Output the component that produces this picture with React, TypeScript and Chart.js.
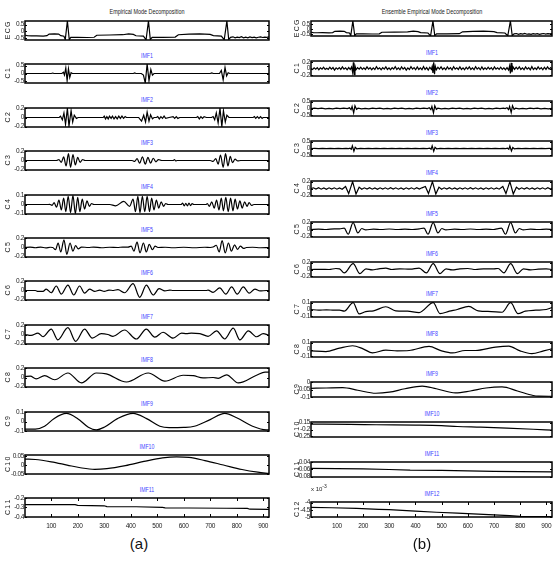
import React, { useEffect, useRef } from "react";
import { Chart, registerables } from "chart.js";

Chart.register(...registerables);

type Pt = [number, number];

// ---------------------------------------------------------------------------
// Signals (sample index, amplitude)
// ---------------------------------------------------------------------------

const ecgSignal: Pt[] = [
  [1, -0.3], [10, -0.33], [25, -0.35], [45, -0.34], [70, -0.36], [84, -0.33], [92, -0.21], [112, -0.19],
  [128, -0.21], [136, -0.33], [148, -0.37], [153, -0.62], [161, 0.78], [168, -0.62], [174, -0.46], [200, -0.45],
  [235, -0.47], [262, -0.45], [272, -0.3], [320, -0.28], [370, -0.26], [392, -0.2], [410, -0.24], [420, -0.34],
  [448, -0.37], [458, -0.64], [467, 0.78], [474, -0.62], [481, -0.46], [520, -0.46], [568, -0.44], [580, -0.26],
  [620, -0.22], [660, -0.2], [700, -0.24], [712, -0.33], [742, -0.37], [753, -0.64], [763, 0.78], [770, -0.62],
  [777, -0.46], [786, -0.42], [794, -0.5], [802, -0.44], [810, -0.48], [818, -0.41], [826, -0.49], [834, -0.45],
  [842, -0.5], [850, -0.43], [858, -0.48], [866, -0.44], [874, -0.5], [882, -0.45], [890, -0.42], [898, -0.47],
  [906, -0.44], [914, -0.46], [922, -0.42],
];

// EMD intrinsic mode functions
const emdImf1: Pt[] = [
  [1, 0], [100, 0], [106, 0.03], [110, 0], [140, 0], [146, 0.08], [150, -0.1], [155, 0.35], [160, -0.45],
  [165, 0.3], [170, -0.25], [175, 0.05], [180, 0], [410, 0], [415, 0.04], [420, 0], [440, 0], [448, -0.1],
  [455, -0.6], [462, 0.6], [469, -0.45], [476, 0.25], [482, -0.1], [488, 0], [700, 0], [706, 0.04], [712, 0],
  [735, 0], [742, 0.2], [749, -0.4], [756, 0.38], [762, -0.15], [768, 0.05], [774, 0], [922, 0],
];

const emdImf2: Pt[] = [
  [1, 0], [130, 0], [135, 0.03], [142, -0.05], [148, 0.1], [154, -0.15], [161, 0.2], [167, -0.19], [175, 0.15],
  [181, -0.1], [187, 0.05], [195, -0.02], [202, 0], [296, 0], [300, 0.03], [305, -0.03], [310, 0.02], [315, -0.03],
  [320, 0.03], [326, -0.02], [331, 0.03], [337, -0.03], [343, 0.02], [349, -0.03], [355, 0.03], [361, -0.02],
  [367, 0.03], [373, -0.02], [379, 0.02], [384, 0], [430, 0], [434, -0.03], [441, -0.08], [449, 0.05], [456, -0.1],
  [462, 0.12], [469, -0.08], [475, 0.06], [482, -0.03], [488, 0], [497, 0], [502, 0.02], [508, -0.03], [514, 0.02],
  [520, -0.02], [526, 0.03], [532, -0.02], [545, 0], [560, 0.02], [566, -0.02], [572, 0.02], [578, -0.02], [585, 0],
  [648, 0], [653, 0.02], [659, -0.03], [665, 0.02], [671, -0.02], [677, 0.02], [686, 0], [705, 0], [711, 0.02],
  [717, -0.05], [723, 0.1], [730, -0.12], [737, 0.2], [744, -0.2], [750, 0.15], [757, -0.1], [763, 0.05], [771, 0],
  [862, 0], [867, 0.02], [872, -0.02], [878, 0.02], [884, -0.02], [890, 0.02], [896, -0.02], [900, 0], [922, 0],
];

const emdImf3: Pt[] = [
  [1, 0], [120, 0], [129, 0.02], [138, -0.04], [147, 0.08], [156, -0.12], [165, 0.15], [173, -0.15], [182, 0.13],
  [191, -0.1], [200, 0.07], [209, -0.04], [218, 0.02], [228, 0], [405, 0], [415, -0.02], [424, 0.04], [434, -0.06],
  [444, 0.08], [455, -0.08], [465, 0.07], [475, -0.06], [485, 0.05], [495, -0.03], [505, 0.02], [517, 0], [560, 0],
  [565, 0.02], [570, -0.01], [575, 0], [700, 0], [711, -0.02], [721, 0.04], [730, -0.08], [739, 0.12], [749, -0.15],
  [758, 0.15], [767, -0.12], [776, 0.09], [784, -0.05], [794, 0.03], [804, -0.01], [815, 0], [922, 0],
];

const emdImf4: Pt[] = [
  [1, 0], [90, 0], [94, 0.002], [103, -0.01], [111, 0.02], [120, -0.03], [129, 0.05], [138, -0.06], [147, 0.07],
  [155, -0.08], [164, 0.09], [173, -0.09], [182, 0.1], [191, -0.1], [200, 0.08], [208, -0.08], [217, 0.06],
  [226, -0.05], [235, 0.04], [244, -0.02], [252, 0.01], [261, 0], [321, 0], [343, -0.015], [374, 0.035],
  [396, -0.02], [409, 0.06], [418, -0.08], [427, 0.09], [435, -0.09], [444, 0.09], [453, -0.08], [462, 0.09],
  [471, -0.08], [479, 0.07], [488, -0.06], [497, 0.05], [506, -0.04], [515, 0.03], [524, -0.02], [532, 0.01],
  [541, 0], [590, 0], [596, 0.015], [602, -0.015], [608, 0.012], [614, -0.015], [620, 0.015], [626, -0.012],
  [632, 0.01], [638, 0], [684, 0], [689, 0.01], [697, -0.02], [706, 0.03], [715, -0.04], [724, 0.05], [733, -0.06],
  [742, 0.07], [750, -0.07], [759, 0.08], [768, -0.08], [777, 0.07], [786, -0.07], [794, 0.06], [803, -0.05],
  [812, 0.04], [821, -0.04], [830, 0.03], [839, -0.02], [847, 0.02], [856, -0.01], [865, 0], [922, 0],
];

const emdImf5: Pt[] = [
  [1, 0], [20, 0.01], [40, -0.005], [60, 0.01], [80, -0.01], [96, 0.005], [106, 0], [116, -0.05], [126, 0.1],
  [136, -0.1], [148, 0.17], [159, -0.15], [171, 0.1], [182, -0.08], [192, 0.04], [202, -0.03], [214, 0.01],
  [240, 0], [260, 0.01], [290, -0.005], [320, 0.005], [350, 0], [370, 0.01], [390, 0.01], [402, 0.03], [412, -0.08],
  [424, 0.12], [435, -0.12], [448, 0.1], [459, -0.1], [470, 0.07], [482, -0.05], [492, 0.03], [503, 0], [530, 0.005],
  [560, -0.005], [600, 0.005], [640, -0.005], [680, 0.005], [700, 0], [711, 0.01], [723, 0.05], [734, -0.1],
  [745, 0.15], [757, -0.12], [769, 0.1], [780, -0.08], [792, 0.06], [803, -0.04], [814, 0.03], [826, -0.02],
  [837, 0], [860, 0.005], [890, -0.005], [922, 0],
];

const emdImf6: Pt[] = [
  [1, 0], [40, 0], [50, -0.02], [69, -0.02], [81, 0.03], [100, -0.05], [119, 0.1], [138, -0.08], [163, 0.12],
  [185, -0.1], [207, 0.1], [226, -0.06], [245, 0.03], [264, -0.02], [283, 0.01], [300, -0.02], [318, 0.01],
  [335, 0], [352, 0.02], [377, -0.05], [409, 0.15], [434, -0.15], [459, 0.12], [485, -0.1], [507, 0.04],
  [529, -0.01], [548, 0.01], [560, 0], [686, 0], [692, 0.01], [711, -0.04], [736, 0.06], [759, -0.08], [781, 0.08],
  [802, -0.08], [825, 0.08], [847, -0.06], [869, 0.03], [888, -0.01], [913, 0], [922, 0],
];

const emdImf7: Pt[] = [
  [1, 0], [24, -0.02], [50, 0.03], [69, -0.05], [100, 0.12], [125, -0.12], [163, 0.15], [192, -0.15], [226, 0.12],
  [255, -0.08], [289, 0.02], [314, 0], [333, -0.04], [377, 0.1], [421, -0.1], [459, 0.12], [491, -0.06], [522, 0.05],
  [560, -0.08], [592, 0.03], [610, 0.02], [629, 0.03], [661, 0.02], [692, -0.04], [724, 0.08], [755, -0.1],
  [787, 0.14], [812, -0.12], [844, 0.08], [875, -0.05], [900, 0.02], [922, -0.02],
];

const emdImf8: Pt[] = [
  [1, 0.02], [21, 0.03], [43, -0.03], [75, 0.04], [113, -0.05], [163, 0.1], [214, -0.12], [270, 0.1], [308, 0.08],
  [384, -0.1], [466, 0.1], [529, -0.08], [598, 0.05], [636, 0.04], [673, -0.01], [711, 0], [730, -0.02], [762, 0.06],
  [806, -0.12], [875, 0.05], [907, 0.12], [922, 0.12],
];

const emdImf9: Pt[] = [
  [1, -0.08], [40, -0.08], [75, -0.05], [110, 0.03], [157, 0.085], [200, 0.03], [240, -0.06], [270, -0.088],
  [300, -0.06], [350, 0.03], [409, 0.085], [460, 0.03], [510, -0.05], [545, -0.065], [600, -0.062], [640, -0.05],
  [700, 0.02], [755, 0.085], [800, 0.04], [860, -0.05], [912, -0.088], [922, -0.088],
];

const emdImf10: Pt[] = [
  [1, 0.033], [40, 0.031], [100, 0.018], [160, 0], [210, -0.015], [264, -0.024], [310, -0.02], [380, -0.003],
  [450, 0.02], [520, 0.04], [573, 0.046], [620, 0.043], [680, 0.025], [750, 0], [820, -0.025], [880, -0.04],
  [922, -0.047],
];

const emdImf11: Pt[] = [
  [1, -0.27], [190, -0.27], [200, -0.277], [300, -0.282], [310, -0.29], [420, -0.292], [520, -0.298],
  [530, -0.303], [620, -0.305], [760, -0.308], [840, -0.31], [850, -0.318], [922, -0.32],
];

// EEMD intrinsic mode functions
const eemdImf1: Pt[] = [
  [1, 0], [7, -0.03], [13, 0.02], [19, -0.02], [25, 0.03], [31, -0.04], [37, 0.02], [43, -0.02], [49, 0.04],
  [55, -0.03], [61, 0.01], [67, -0.03], [73, 0.04], [79, -0.02], [85, 0.03], [91, -0.05], [97, 0.02], [103, -0.02],
  [109, 0.03], [115, -0.03], [121, 0.05], [127, -0.02], [133, 0.02], [139, -0.04], [145, 0.03], [151, -0.03],
  [156, 0.05], [160, -0.12], [163, 0.2], [166, -0.2], [169, 0.08], [173, -0.04], [179, 0.03], [185, -0.02],
  [191, 0.04], [197, -0.03], [203, 0.02], [209, -0.03], [215, 0.05], [221, -0.02], [227, 0.03], [233, -0.04],
  [239, 0.02], [245, -0.03], [251, 0.06], [257, -0.02], [263, 0.02], [269, -0.04], [275, 0.03], [281, -0.02],
  [287, 0.05], [293, -0.03], [299, 0.02], [305, -0.04], [311, 0.03], [317, -0.02], [323, 0.06], [329, -0.03],
  [335, 0.02], [341, -0.04], [347, 0.05], [353, -0.02], [359, 0.03], [365, -0.05], [371, 0.02], [377, -0.03],
  [383, 0.06], [389, -0.02], [395, 0.03], [401, -0.04], [407, 0.05], [413, -0.03], [419, 0.02], [425, -0.04],
  [431, 0.06], [437, -0.03], [443, 0.03], [449, -0.05], [455, 0.04], [461, -0.03], [464, 0.06], [467, -0.14],
  [470, 0.2], [473, -0.18], [476, 0.07], [480, -0.04], [486, 0.04], [492, -0.02], [498, 0.05], [504, -0.03],
  [510, 0.02], [516, -0.04], [522, 0.05], [528, -0.02], [534, 0.03], [540, -0.04], [546, 0.06], [552, -0.02],
  [558, 0.02], [564, -0.03], [570, 0.05], [576, -0.03], [582, 0.02], [588, -0.04], [594, 0.04], [600, -0.02],
  [606, 0.05], [612, -0.03], [618, 0.02], [624, -0.04], [630, 0.06], [636, -0.02], [642, 0.03], [648, -0.04],
  [654, 0.05], [660, -0.03], [666, 0.02], [672, -0.03], [678, 0.04], [684, -0.02], [690, 0.03], [696, -0.04],
  [702, 0.05], [708, -0.02], [714, 0.02], [720, -0.03], [726, 0.04], [732, -0.03], [738, 0.02], [744, -0.04],
  [750, 0.03], [756, -0.05], [760, 0.08], [763, -0.16], [766, 0.18], [769, -0.12], [773, 0.05], [779, -0.03],
  [785, 0.04], [791, -0.02], [797, 0.05], [803, -0.03], [809, 0.02], [815, -0.04], [821, 0.05], [827, -0.02],
  [833, 0.03], [839, -0.04], [845, 0.06], [851, -0.03], [857, 0.02], [863, -0.03], [869, 0.05], [875, -0.02],
  [881, 0.03], [887, -0.04], [893, 0.04], [899, -0.03], [905, 0.05], [911, -0.02], [917, 0.03], [922, -0.02],
];

const eemdImf2: Pt[] = [
  [1, 0], [14, 0.02], [28, -0.015], [42, 0.02], [56, -0.02], [70, 0.015], [84, -0.02], [98, 0.02], [112, -0.015],
  [126, 0.02], [140, -0.01], [148, 0.05], [154, -0.08], [158, 0.15], [164, -0.32], [169, 0.2], [175, -0.06],
  [181, 0.02], [194, -0.02], [208, 0.015], [222, -0.02], [236, 0.02], [250, -0.015], [264, 0.02], [278, -0.02],
  [292, 0.015], [306, -0.02], [320, 0.02], [334, -0.015], [348, 0.02], [362, -0.02], [376, 0.015], [390, -0.02],
  [404, 0.02], [418, -0.015], [432, 0.02], [446, -0.01], [453, 0.05], [459, -0.08], [463, 0.15], [469, -0.32],
  [474, 0.2], [480, -0.06], [486, 0.02], [499, -0.02], [513, 0.015], [527, -0.02], [541, 0.02], [555, -0.015],
  [569, 0.02], [583, -0.02], [597, 0.015], [611, -0.02], [625, 0.02], [639, -0.015], [653, 0.02], [667, -0.02],
  [681, 0.015], [695, -0.02], [709, 0.02], [723, -0.015], [737, 0.02], [743, -0.01], [750, 0.05], [756, -0.08],
  [760, 0.15], [766, -0.3], [771, 0.2], [777, -0.06], [783, 0.02], [796, -0.02], [810, 0.015], [824, -0.02],
  [838, 0.02], [852, -0.015], [866, 0.02], [880, -0.02], [894, 0.015], [908, -0.02], [922, 0.01],
];

const eemdImf3: Pt[] = [
  [1, 0], [15, 0.015], [30, -0.01], [45, 0.015], [60, -0.015], [75, 0.01], [90, -0.015], [105, 0.015],
  [120, -0.01], [135, 0.015], [145, -0.01], [150, 0.02], [155, -0.06], [159, 0.2], [165, -0.2], [170, 0.08],
  [176, -0.02], [190, 0.015], [205, -0.015], [220, 0.01], [235, -0.015], [250, 0.015], [265, -0.01], [280, 0.015],
  [295, -0.015], [310, 0.01], [325, -0.015], [340, 0.015], [355, -0.01], [370, 0.015], [385, -0.015], [400, 0.01],
  [415, -0.015], [430, 0.015], [445, -0.01], [455, 0.02], [460, -0.06], [464, 0.2], [470, -0.2], [475, 0.08],
  [481, -0.02], [495, 0.015], [510, -0.015], [525, 0.01], [540, -0.015], [555, 0.015], [570, -0.01], [585, 0.015],
  [600, -0.015], [615, 0.01], [630, -0.015], [645, 0.015], [660, -0.01], [675, 0.015], [690, -0.015], [705, 0.01],
  [720, -0.015], [735, 0.015], [745, -0.01], [752, 0.02], [757, -0.06], [761, 0.18], [767, -0.18], [772, 0.07],
  [778, -0.02], [792, 0.015], [807, -0.015], [822, 0.01], [837, -0.015], [852, 0.015], [867, -0.01],
  [882, 0.015], [897, -0.015], [912, 0.01], [922, 0],
];

const eemdImf4: Pt[] = [
  [1, 0], [10, 0.02], [20, -0.015], [30, 0.025], [40, -0.02], [50, 0.015], [60, -0.025], [70, 0.02], [80, -0.015],
  [90, 0.02], [100, -0.02], [110, 0.015], [120, -0.02], [133, 0.06], [145, -0.15], [160, 0.2], [173, -0.16],
  [185, 0.04], [195, -0.02], [205, 0.02], [215, -0.015], [225, 0.025], [235, -0.02], [245, 0.015], [255, -0.025],
  [265, 0.02], [275, -0.015], [285, 0.02], [295, -0.02], [305, 0.025], [315, -0.015], [325, 0.02], [335, -0.02],
  [345, 0.015], [355, -0.025], [365, 0.02], [375, -0.015], [385, 0.02], [395, -0.02], [405, 0.025], [415, -0.015],
  [425, 0.02], [438, 0.06], [450, -0.15], [465, 0.2], [478, -0.16], [490, 0.04], [500, -0.02], [510, 0.02],
  [520, -0.015], [530, 0.025], [540, -0.02], [550, 0.015], [560, -0.025], [570, 0.02], [580, -0.015], [590, 0.02],
  [600, -0.02], [610, 0.025], [620, -0.015], [630, 0.02], [640, -0.02], [650, 0.015], [660, -0.025], [670, 0.02],
  [680, -0.015], [690, 0.02], [700, -0.02], [710, 0.015], [720, -0.02], [734, 0.06], [746, -0.15], [761, 0.2],
  [774, -0.16], [786, 0.04], [796, -0.02], [806, 0.02], [816, -0.015], [826, 0.025], [836, -0.02], [846, 0.015],
  [856, -0.025], [866, 0.02], [876, -0.015], [886, 0.02], [896, -0.02], [906, 0.025], [916, -0.015], [922, 0.01],
];

const eemdImf5: Pt[] = [
  [1, 0], [30, 0.01], [60, 0], [90, 0.02], [110, 0.02], [128, 0.04], [143, -0.14], [162, 0.2], [180, -0.1],
  [195, 0.03], [210, -0.01], [240, 0.01], [270, 0], [300, 0.015], [330, 0], [360, 0.01], [390, 0], [415, 0.02],
  [433, 0.04], [448, -0.14], [468, 0.2], [486, -0.1], [501, 0.03], [516, -0.01], [550, 0.01], [580, 0],
  [610, 0.015], [640, 0], [670, 0.01], [700, 0], [712, 0.02], [729, 0.04], [744, -0.14], [764, 0.2], [782, -0.1],
  [797, 0.03], [812, -0.01], [840, 0.01], [870, 0], [900, 0.01], [922, 0],
];

const eemdImf6: Pt[] = [
  [1, 0], [40, 0.005], [70, 0], [96, 0.03], [110, 0.02], [128, -0.1], [162, 0.17], [188, -0.12], [211, 0.02],
  [235, -0.01], [260, 0.02], [287, 0.04], [310, 0], [340, 0.02], [380, 0.01], [414, 0.04], [442, -0.1],
  [468, 0.17], [494, -0.12], [517, 0.02], [540, -0.01], [570, 0.02], [600, 0.03], [630, 0], [660, 0.02],
  [700, 0.02], [716, 0.03], [738, -0.1], [764, 0.17], [790, -0.12], [813, 0.02], [840, -0.01], [870, 0.01],
  [900, 0.02], [922, 0],
];

const eemdImf7: Pt[] = [
  [1, 0], [30, -0.01], [60, -0.005], [90, -0.01], [110, -0.01], [128, -0.025], [162, 0.1], [185, -0.065],
  [210, -0.03], [240, -0.02], [287, 0.04], [325, -0.02], [370, -0.025], [414, -0.045], [468, 0.1], [494, -0.06],
  [530, -0.025], [560, 0], [604, 0.045], [640, -0.02], [690, -0.03], [731, -0.04], [764, 0.1], [792, -0.06],
  [820, -0.025], [860, -0.01], [900, 0], [922, 0.03],
];

const eemdImf8: Pt[] = [
  [1, -0.02], [58, -0.03], [110, 0.02], [160, 0.055], [200, 0.01], [236, -0.05], [287, -0.01], [330, -0.02],
  [376, -0.015], [452, 0.045], [500, -0.02], [541, -0.05], [590, -0.015], [630, -0.015], [706, 0.035],
  [757, 0.05], [800, -0.02], [845, -0.06], [890, -0.02], [922, 0.01],
];

const eemdImf9: Pt[] = [
  [1, -0.042], [60, -0.04], [122, -0.038], [180, -0.055], [249, -0.075], [300, -0.068], [360, -0.045],
  [426, -0.027], [480, -0.045], [553, -0.073], [610, -0.06], [670, -0.04], [731, -0.033], [790, -0.06],
  [850, -0.09], [871, -0.094], [922, -0.095],
];

const eemdImf10: Pt[] = [
  [1, -0.16], [150, -0.162], [250, -0.165], [400, -0.168], [500, -0.172], [560, -0.178], [650, -0.183],
  [750, -0.19], [850, -0.198], [922, -0.205],
];

const eemdImf11: Pt[] = [
  [1, -0.057], [200, -0.058], [300, -0.06], [380, -0.062], [500, -0.0625], [600, -0.064], [700, -0.065],
  [800, -0.066], [922, -0.0665],
];

// residual, in units of 1e-3
const eemdImf12: Pt[] = [
  [1, -4.33], [80, -4.36], [175, -4.4], [260, -4.47], [300, -4.5], [400, -4.6], [480, -4.68], [560, -4.75],
  [640, -4.82], [700, -4.87], [760, -4.92], [800, -4.97], [880, -4.99], [922, -5],
];

// ---------------------------------------------------------------------------
// Axis labels, limits and ticks
// ---------------------------------------------------------------------------

const xTickValues = [100, 200, 300, 400, 500, 600, 700, 800, 900];

const emdLabels = ["E C G", "C 1", "C 2", "C 3", "C 4", "C 5", "C 6", "C 7", "C 8", "C 9", "C 1 0", "C 1 1"];
const emdTitles = ["", "IMF1", "IMF2", "IMF3", "IMF4", "IMF5", "IMF6", "IMF7", "IMF8", "IMF9", "IMF10", "IMF11"];
const emdRanges: [number, number][] = [
  [-0.66, 0.78], [-0.6, 0.6], [-0.21, 0.21], [-0.21, 0.21], [-0.105, 0.105], [-0.21, 0.21],
  [-0.21, 0.21], [-0.21, 0.21], [-0.21, 0.21], [-0.1, 0.1], [-0.05, 0.056], [-0.4, -0.2],
];
const emdTicks: number[][] = [
  [-0.5, 0, 0.5], [-0.5, 0, 0.5], [-0.2, 0, 0.2], [-0.2, 0, 0.2], [-0.1, 0, 0.1], [-0.2, 0, 0.2],
  [-0.2, 0, 0.2], [-0.2, 0, 0.2], [-0.2, 0, 0.2], [-0.1, 0, 0.1], [-0.05, 0, 0.05], [-0.4, -0.3, -0.2],
];
const emdSeries: Pt[][] = [
  ecgSignal, emdImf1, emdImf2, emdImf3, emdImf4, emdImf5, emdImf6, emdImf7, emdImf8, emdImf9, emdImf10, emdImf11,
];
const emdSmooth = [false, false, false, true, true, true, true, true, true, true, true, false];

const eemdLabels = ["E C G", "C 1", "C 2", "C 3", "C 4", "C 5", "C 6", "C 7", "C 8", "C 9", "C 1 0", "C 1 1", "C 1 2"];
const eemdTitles = ["", "IMF1", "IMF2", "IMF3", "IMF4", "IMF5", "IMF6", "IMF7", "IMF8", "IMF9", "IMF10", "IMF11", "IMF12"];
const eemdRanges: [number, number][] = [
  [-0.66, 0.78], [-0.24, 0.24], [-0.55, 0.55], [-0.55, 0.55], [-0.22, 0.22], [-0.22, 0.22], [-0.22, 0.22],
  [-0.11, 0.11], [-0.11, 0.11], [-0.1, 0], [-0.255, -0.145], [-0.081, -0.039], [-5.02, -3.95],
];
const eemdTicks: number[][] = [
  [-0.5, 0, 0.5], [-0.2, 0, 0.2], [-0.5, 0, 0.5], [-0.5, 0, 0.5], [-0.2, 0, 0.2], [-0.2, 0, 0.2], [-0.2, 0, 0.2],
  [-0.1, 0, 0.1], [-0.1, 0, 0.1], [-0.1, -0.05, 0], [-0.25, -0.2, -0.15], [-0.08, -0.06, -0.04], [-5, -4.5, -4],
];
const eemdSeries: Pt[][] = [
  ecgSignal, eemdImf1, eemdImf2, eemdImf3, eemdImf4, eemdImf5, eemdImf6, eemdImf7, eemdImf8, eemdImf9,
  eemdImf10, eemdImf11, eemdImf12,
];
const eemdSmooth = [false, false, false, false, false, true, true, true, true, true, true, false, false];

// ---------------------------------------------------------------------------
// Drawing
// ---------------------------------------------------------------------------

const NARROW = '"Liberation Sans Narrow", "Arial Narrow", "Liberation Sans", Arial, sans-serif';
const PAD_T = 5;
const PAD_B = 5;
const X_AXIS_H = 14;

// Tight, condensed lettering for the axis text.
const condensePlugin = {
  id: "condense",
  beforeDraw(chart: any) {
    (chart.ctx as any).letterSpacing = "-0.35px";
  },
  afterDraw(chart: any) {
    (chart.ctx as any).letterSpacing = "0px";
  },
};

// Axes frame plus inward MATLAB-style tick marks.
const framePlugin = {
  id: "frame",
  afterDatasetsDraw(chart: any, _args: any, opts: any) {
    const { ctx, chartArea, scales } = chart;
    const { left, top, right, bottom } = chartArea;
    ctx.save();
    ctx.strokeStyle = "#000";
    ctx.lineWidth = 1;
    const ys = scales.y;
    for (const t of ys.ticks) {
      const py = Math.round(ys.getPixelForValue(t.value)) + 0.5;
      ctx.beginPath();
      ctx.moveTo(left, py);
      ctx.lineTo(left + 2, py);
      ctx.moveTo(right - 2, py);
      ctx.lineTo(right, py);
      ctx.stroke();
    }
    if (opts && opts.xTicks) {
      const xs = scales.x;
      for (const t of xs.ticks) {
        const px = Math.round(xs.getPixelForValue(t.value)) + 0.5;
        ctx.beginPath();
        ctx.moveTo(px, top);
        ctx.lineTo(px, top + 3);
        ctx.moveTo(px, bottom);
        ctx.lineTo(px, bottom - 3);
        ctx.stroke();
      }
    }
    ctx.lineWidth = 1.5;
    ctx.strokeRect(left, top, right - left, bottom - top);
    ctx.restore();
  },
};

type PanelProps = {
  label: string;
  data: Pt[];
  range: [number, number];
  ticks: number[];
  smooth: boolean;
  left: number;
  top: number;
  width: number;
  boxH: number;
  axisW: number;
  titlePad: number;
  showX: boolean;
};

function Panel(p: PanelProps) {
  const ref = useRef<HTMLCanvasElement>(null);
  const height = PAD_T + p.boxH + (p.showX ? X_AXIS_H : PAD_B);

  useEffect(() => {
    if (!ref.current) return;
    const tickFont = { family: NARROW, size: 6.5 };
    const chart = new Chart(ref.current, {
      type: "line",
      data: {
        datasets: [
          {
            data: p.data.map(([x, y]) => ({ x, y })),
            borderColor: "#000",
            borderWidth: 1.2,
            pointRadius: 0,
            fill: false,
            tension: p.smooth ? 0.4 : 0,
            cubicInterpolationMode: p.smooth ? "monotone" : "default",
          },
        ],
      },
      options: {
        animation: false,
        responsive: false,
        maintainAspectRatio: false,
        events: [],
        layout: { padding: { top: PAD_T, bottom: p.showX ? 0 : PAD_B, left: 0, right: 1 } },
        plugins: {
          legend: { display: false },
          tooltip: { enabled: false },
          frame: { xTicks: p.showX },
        } as any,
        scales: {
          x: {
            type: "linear",
            min: 1,
            max: 922,
            display: p.showX,
            grid: { display: false, drawTicks: false },
            border: { display: false },
            ticks: {
              font: tickFont,
              color: "#222",
              padding: 5,
              autoSkip: false,
              maxRotation: 0,
              callback: (v: any) => String(v),
            },
            afterBuildTicks: (s: any) => {
              s.ticks = xTickValues.map((v) => ({ value: v }));
            },
            afterFit: (s: any) => {
              if (p.showX) {
                s.height = X_AXIS_H;
                s.paddingLeft = 0;
                s.paddingRight = 0;
              }
            },
          },
          y: {
            type: "linear",
            min: p.range[0],
            max: p.range[1],
            grid: { display: false, drawTicks: false },
            border: { display: false },
            ticks: { font: tickFont, color: "#222", padding: 1, autoSkip: false, callback: (v: any) => String(v) },
            afterBuildTicks: (s: any) => {
              s.ticks = p.ticks.map((v) => ({ value: v }));
            },
            afterFit: (s: any) => {
              s.width = p.axisW;
              s.paddingTop = 0;
              s.paddingBottom = 0;
            },
            title: {
              display: true,
              text: p.label,
              color: "#222",
              font: { family: NARROW, size: 7 },
              padding: { top: p.titlePad, bottom: 0 },
            },
          },
        },
      } as any,
      plugins: [condensePlugin, framePlugin],
    });
    return () => chart.destroy();
  }, []);

  return (
    <canvas
      ref={ref}
      width={p.width}
      height={height}
      style={{ position: "absolute", left: p.left, top: p.top - PAD_T, width: p.width, height }}
    />
  );
}

const textBase: React.CSSProperties = {
  position: "absolute",
  fontFamily: NARROW,
  whiteSpace: "nowrap",
  textAlign: "center",
  lineHeight: "10px",
};

function Column(props: {
  labels: string[];
  titles: string[];
  ranges: [number, number][];
  ticks: number[][];
  series: Pt[][];
  smooth: boolean[];
  canvasLeft: number;
  canvasW: number;
  axisW: number;
  titlePad: number;
  firstTop: number;
  step: number;
  boxH: number;
  heading: string;
}) {
  const boxLeft = props.canvasLeft + props.axisW;
  const boxRight = props.canvasLeft + props.canvasW - 1;
  const cx = (boxLeft + boxRight) / 2;
  const n = props.series.length;
  return (
    <>
      <div
        style={{
          ...textBase,
          left: cx - 100,
          width: 200,
          top: 7,
          fontSize: 8,
          color: "#222",
          transform: "scaleX(0.68)",
        }}
      >
        {props.heading}
      </div>
      {props.series.map((d, i) => {
        const top = Math.round(props.firstTop + props.step * i);
        return (
          <React.Fragment key={i}>
            {props.titles[i] ? (
              <div
                style={{
                  ...textBase,
                  left: cx - 30,
                  width: 60,
                  top: top - 13.5,
                  fontSize: 7,
                  color: "#4444ff",
                  transform: "scaleX(0.75)",
                }}
              >
                {props.titles[i]}
              </div>
            ) : null}
            <Panel
              label={props.labels[i]}
              data={d}
              range={props.ranges[i]}
              ticks={props.ticks[i]}
              smooth={props.smooth[i]}
              left={props.canvasLeft}
              top={top}
              width={props.canvasW}
              boxH={props.boxH}
              axisW={props.axisW}
              titlePad={props.titlePad}
              showX={i === n - 1}
            />
          </React.Fragment>
        );
      })}
    </>
  );
}

export default function App() {
  return (
    <div
      style={{
        position: "absolute",
        left: 0,
        top: 0,
        width: 553,
        height: 564,
        overflow: "hidden",
        background: "#fff",
      }}
    >
      <Column
        labels={emdLabels}
        titles={emdTitles}
        ranges={emdRanges}
        ticks={emdTicks}
        series={emdSeries}
        smooth={emdSmooth}
        canvasLeft={0}
        canvasW={270}
        axisW={25}
        titlePad={4}
        firstTop={21}
        step={43.4}
        boxH={19}
        heading="Empirical Mode Decomposition"
      />
      <Column
        labels={eemdLabels}
        titles={eemdTitles}
        ranges={eemdRanges}
        ticks={eemdTicks}
        series={eemdSeries}
        smooth={eemdSmooth}
        canvasLeft={282}
        canvasW={271}
        axisW={29}
        titlePad={11}
        firstTop={21}
        step={40.1}
        boxH={15}
        heading="Ensemble Empirical Mode Decomposition"
      />
      <div style={{ ...textBase, left: 311, top: 481, fontSize: 6, color: "#222", textAlign: "left" }}>
        x 10<sup style={{ fontSize: 5 }}>-3</sup>
      </div>
      <div
        style={{
          position: "absolute",
          left: 99,
          width: 80,
          top: 535,
          textAlign: "center",
          fontFamily: '"Liberation Sans", Arial, sans-serif',
          fontSize: 15,
          lineHeight: "17px",
          color: "#111",
        }}
      >
        (a)
      </div>
      <div
        style={{
          position: "absolute",
          left: 382,
          width: 80,
          top: 535,
          textAlign: "center",
          fontFamily: '"Liberation Sans", Arial, sans-serif',
          fontSize: 15,
          lineHeight: "17px",
          color: "#111",
        }}
      >
        (b)
      </div>
    </div>
  );
}
